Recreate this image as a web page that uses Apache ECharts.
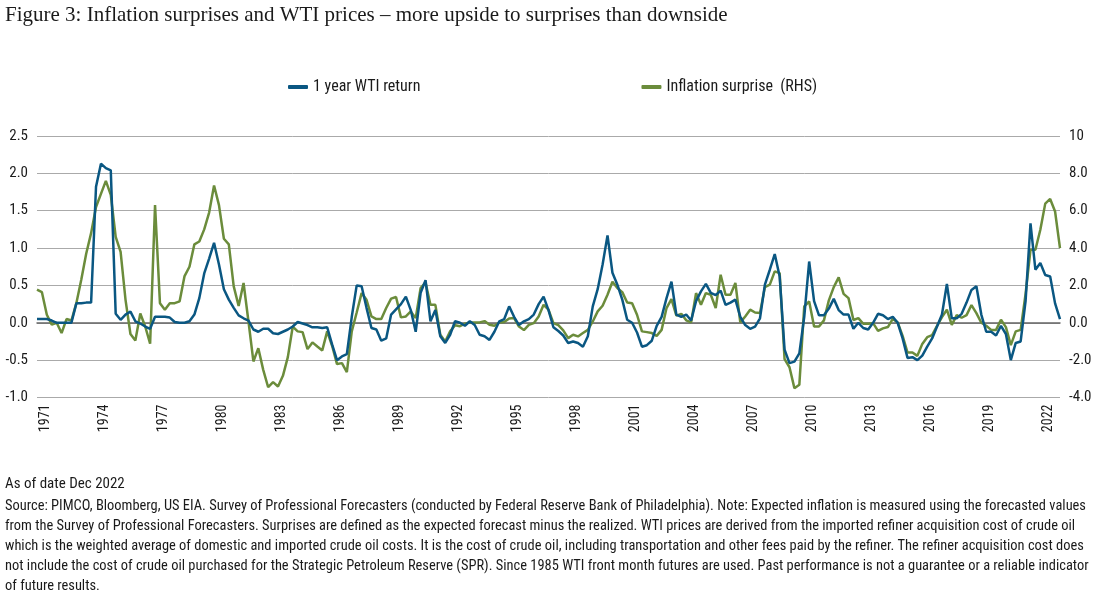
<!DOCTYPE html>
<html>
<head>
<meta charset="utf-8">
<script src="https://cdn.jsdelivr.net/npm/echarts@6/dist/echarts.min.js"></script>
<style>
html,body{margin:0;padding:0;background:#fff;}
#c{width:1100px;height:598px;}
</style>
</head>
<body>
<div id="c"></div>
<script>
// Quarterly categories, 1970 Q4 .. 2022 Q4
const startYear = 1970, startQuarter = 4, endYear = 2022, endQuarter = 4;
const categories = [];
for (let y = startYear, q = startQuarter; y < endYear || (y === endYear && q <= endQuarter); ) {
  categories.push(y + ' Q' + q);
  q++; if (q > 4) { q = 1; y++; }
}
const tickYears = ['1971','1974','1977','1980','1983','1986','1989','1992','1995','1998','2001','2004','2007','2010','2013','2016','2019','2022'];

// 1 year WTI return (left axis)
const wtiReturn = [
 0.05,0.05,0.05,0.03,0.0,0.0,0.0,0.0,0.26,0.26,0.27,0.27,1.82,2.13,2.07,2.04,0.12,0.04,0.11,0.15,0.02,-0.01,-0.05,-0.08,0.08,0.08,0.08,0.07,0.01,0.0,0.0,0.02,0.11,0.33,0.66,0.86,1.07,0.78,0.45,0.31,0.20,0.10,
 0.06,0.03,-0.09,-0.12,-0.08,-0.08,-0.14,-0.15,-0.12,-0.09,-0.05,0.01,-0.01,-0.03,-0.06,-0.06,-0.07,-0.06,-0.29,-0.50,-0.45,-0.42,0.08,0.50,0.49,0.20,-0.07,-0.09,-0.24,-0.21,0.11,0.18,0.25,0.35,0.17,-0.12,0.40,0.57,0.02,0.17,-0.18,-0.27,
 -0.16,0.02,0.0,-0.04,0.02,-0.03,-0.16,-0.18,-0.23,-0.12,0.02,0.05,0.22,0.08,-0.03,0.02,0.05,0.11,0.25,0.35,0.17,-0.06,-0.11,-0.17,-0.27,-0.25,-0.27,-0.32,-0.18,0.22,0.45,0.78,1.17,0.67,0.51,0.31,0.04,0.0,-0.13,-0.32,-0.30,
 -0.24,-0.04,0.08,0.33,0.55,0.11,0.08,0.11,0.03,0.29,0.42,0.52,0.40,0.37,0.43,0.24,0.27,0.31,0.08,-0.03,-0.08,-0.05,0.06,0.51,0.71,0.92,0.62,-0.36,-0.54,-0.52,-0.41,0.08,0.82,0.29,0.10,0.10,0.19,0.32,0.17,0.11,0.11,-0.08,0.0,
 -0.07,-0.09,0.0,0.12,0.10,0.05,0.08,0.0,-0.21,-0.47,-0.46,-0.50,-0.44,-0.32,-0.21,-0.05,0.11,0.52,0.06,0.06,0.12,0.27,0.44,0.49,0.11,-0.12,-0.12,-0.17,-0.04,-0.15,-0.50,-0.27,-0.25,0.29,1.33,0.71,0.80,0.64,0.62,0.26,0.05
];

// Inflation surprise (right axis)
const inflationSurprise = [
 1.77,1.64,0.43,-0.1,0.0,-0.55,0.2,0.12,1.05,2.3,3.7,4.8,6.2,6.9,7.6,6.85,4.6,3.8,1.23,-0.6,-0.95,0.5,-0.2,-1.12,6.3,1.05,0.7,1.05,1.05,1.15,2.5,3.0,4.2,4.35,5.0,5.9,7.35,6.3,4.5,4.2,1.95,0.9,
 2.13,0.07,-2.07,-1.36,-2.52,-3.45,-3.18,-3.41,-2.84,-1.84,-0.2,-0.46,-0.5,-1.41,-1.05,-1.27,-1.48,-0.46,-1.23,-2.21,-2.16,-2.64,-0.46,0.55,1.59,1.23,0.34,0.2,0.2,0.79,1.29,1.38,0.29,0.34,0.61,0.25,1.86,2.16,0.96,0.96,-0.64,-1.0,
 -0.46,-0.13,-0.18,-0.05,0.02,0.02,0.02,0.09,-0.11,-0.16,0.02,0.04,0.23,0.25,-0.2,-0.39,-0.11,-0.02,0.34,0.96,0.7,-0.02,-0.13,-0.41,-0.82,-0.64,-0.73,-0.55,-0.38,0.07,0.61,0.91,1.5,2.2,1.86,1.64,1.09,1.05,0.43,-0.46,-0.5,
 -0.55,-0.70,-0.38,0.79,1.27,0.38,0.48,0.13,0.02,1.59,0.96,1.59,1.5,0.79,2.57,1.5,1.5,2.13,0.02,0.34,0.70,0.55,0.52,1.91,2.04,2.75,2.66,-1.95,-2.38,-3.5,-3.32,0.88,1.14,-0.2,-0.2,0.13,1.2,1.91,2.43,1.55,1.32,0.15,0.25,
 -0.05,-0.05,-0.02,-0.43,-0.3,-0.23,0.21,0.02,-0.7,-1.59,-1.59,-1.77,-1.13,-0.77,-0.66,-0.16,0.3,0.7,-0.11,0.41,0.27,0.41,0.95,0.52,0.0,-0.16,-0.38,-0.38,0.16,-0.23,-1.2,-0.46,-0.38,1.55,3.91,3.91,4.98,6.38,6.63,5.96,4.0
];

const titleText = 'Figure 3: Inflation surprises and WTI prices \u2013 more upside to surprises than downside';
const asOfText = 'As of date Dec 2022';
const sourceLines = [
 'Source: PIMCO, Bloomberg, US EIA. Survey of Professional Forecasters (conducted by Federal Reserve Bank of Philadelphia). Note: Expected inflation is measured using the forecasted values',
 'from the Survey of Professional Forecasters. Surprises are defined as the expected forecast minus the realized. WTI prices are derived from the imported refiner acquisition cost of crude oil',
 'which is the weighted average of domestic and imported crude oil costs. It is the cost of crude oil, including transportation and other fees paid by the refiner. The refiner acquisition cost does',
 'not include the cost of crude oil purchased for the Strategic Petroleum Reserve (SPR). Since 1985 WTI front month futures are used. Past performance is not a guarantee or a reliable indicator',
 'of future results.'
];

const NARROW = '"Liberation Sans Narrow", "Roboto Condensed", "DejaVu Sans Condensed", sans-serif';
const BLUE = '#0a5782';
const GREEN = '#6b8c3b';

const chart = echarts.init(document.getElementById('c'), null, {renderer: 'canvas'});
const graphics = [
  {type: 'text', left: 5, top: 5, style: {text: titleText, font: '21px "Liberation Serif", serif', fill: '#1a1a1a'}},
  {type: 'text', left: 5, top: 477, style: {text: asOfText, font: '15px ' + NARROW, fill: '#1a1a1a'}}
];
sourceLines.forEach((t, k) => {
  graphics.push({type: 'text', left: 5, top: 499 + k * 20, style: {text: t, font: '14.45px ' + NARROW, fill: '#1a1a1a'}});
});

chart.setOption({
  animation: false,
  backgroundColor: '#fff',
  graphic: graphics,
  legend: {
    left: 283, top: 74,
    icon: 'roundRect',
    itemWidth: 20, itemHeight: 4, itemGap: 221,
    textStyle: {fontFamily: NARROW, fontSize: 16, color: '#1a1a1a'},
    data: ['1 year WTI return', 'Inflation surprise  (RHS)']
  },
  grid: {left: 37, right: 40, top: 136, bottom: 200.5, containLabel: false},
  xAxis: {
    type: 'category',
    data: categories,
    boundaryGap: false,
    axisLine: {show: true, onZero: true, lineStyle: {color: '#666', width: 1.5}},
    axisTick: {show: false},
    axisLabel: {
      rotate: 90,
      margin: 7,
      verticalAlign: 'top',
      lineHeight: 7,
      fontFamily: NARROW, fontSize: 14, color: '#1a1a1a',
      interval: (idx, val) => tickYears.indexOf(val.slice(0, 4)) >= 0 && val.endsWith('Q1'),
      formatter: v => v.slice(0, 4)
    },
    splitLine: {show: false}
  },
  yAxis: [
    {
      type: 'value', min: -1, max: 2.5, interval: 0.5, position: 'left',
      axisLine: {show: false}, axisTick: {show: false},
      axisLabel: {margin: 9, fontFamily: NARROW, fontSize: 15, color: '#1a1a1a', formatter: v => v.toFixed(1)},
      splitLine: {show: true, lineStyle: {color: '#aaaaaa', width: 1}}
    },
    {
      type: 'value', min: -4, max: 10, interval: 2, position: 'right',
      axisLine: {show: false}, axisTick: {show: false},
      axisLabel: {margin: 9, fontFamily: NARROW, fontSize: 15, color: '#1a1a1a', formatter: v => (v === 10 ? '10' : v.toFixed(1))},
      splitLine: {show: false}
    }
  ],
  series: [
    {
      name: '1 year WTI return', type: 'line', yAxisIndex: 0, data: wtiReturn,
      symbol: 'none', z: 3,
      lineStyle: {color: BLUE, width: 2.5}, itemStyle: {color: BLUE}
    },
    {
      name: 'Inflation surprise  (RHS)', type: 'line', yAxisIndex: 1, data: inflationSurprise,
      symbol: 'none', z: 2,
      lineStyle: {color: GREEN, width: 2.5}, itemStyle: {color: GREEN}
    }
  ]
});
</script>
</body>
</html>
